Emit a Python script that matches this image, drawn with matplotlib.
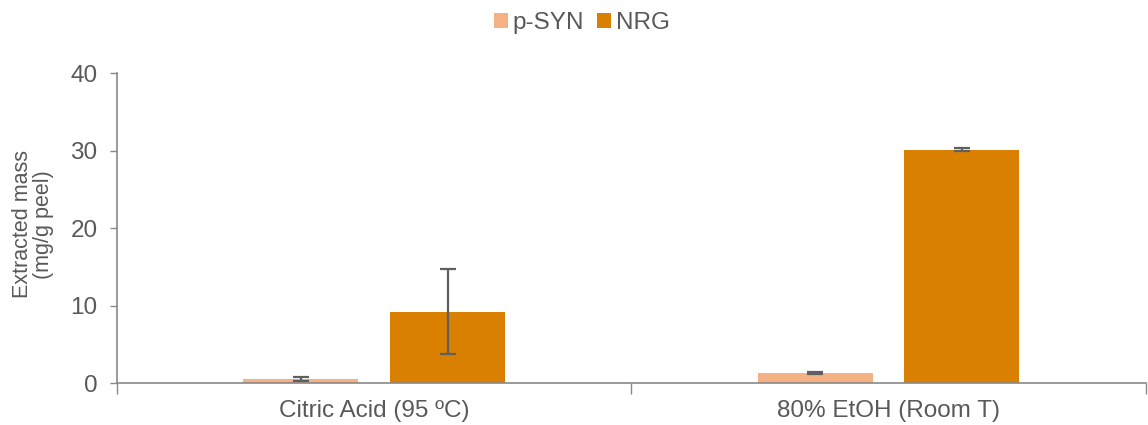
import matplotlib
matplotlib.use("Agg")
import matplotlib.pyplot as plt
import numpy as np

categories = ["Citric Acid (95 ºC)", "80% EtOH (Room T)"]
series_names = ["p-SYN", "NRG"]
psyn_values = [0.5, 1.3]
psyn_errors = [0.3, 0.1]
nrg_values = [9.2, 30.1]
nrg_errors = [5.5, 0.2]
yticks = [0, 10, 20, 30, 40]

plt.rcParams['font.family'] = ['Liberation Sans', 'DejaVu Sans']
txt = '#595959'
axcol = '#898989'

fig = plt.figure(figsize=(11.48, 4.25), dpi=100)
ax = fig.add_axes([0.102, 0.0988, 0.896, 0.7294])

x = np.arange(len(categories))
w = 0.2235
off = 0.1426
ekw = dict(ecolor='#5f5f5f', elinewidth=1.6, capsize=6, capthick=1.6)
ax.bar(x - off, psyn_values, w, yerr=psyn_errors, color='#F4B183', label=series_names[0], error_kw=ekw, zorder=2)
ax.bar(x + off, nrg_values, w, yerr=nrg_errors, color='#D98000', label=series_names[1], error_kw=ekw, zorder=2)

ax.set_xlim(-0.5, 1.5)
ax.set_ylim(0, 40)
ax.set_yticks(yticks)
ax.set_xticks([-0.5, 0.5, 1.5])
ax.set_xticklabels([])
ax.set_xticks(x, minor=True)
ax.set_xticklabels(categories, minor=True)
ax.tick_params(axis='x', which='minor', length=0, pad=12, labelsize=17.5, labelcolor=txt)
ax.tick_params(axis='x', which='major', length=8, width=1, color=axcol, direction='out')
ax.tick_params(axis='y', length=5, width=1, color=axcol, labelsize=17.5, labelcolor=txt, pad=9)

for s in ['top', 'right']:
    ax.spines[s].set_visible(False)
for s in ['left', 'bottom']:
    ax.spines[s].set_color(axcol)
    ax.spines[s].set_linewidth(1.2)

ax.set_ylabel("Extracted mass\n(mg/g peel)", fontsize=15.5, color=txt, labelpad=12, linespacing=1.0)
ax.yaxis.label.set_y(0.512)

leg = fig.legend(loc='center', bbox_to_anchor=(0.507, 0.945), ncol=2, frameon=False,
                 fontsize=17.5, handlelength=0.55, handleheight=0.55, handletextpad=0.2, columnspacing=0.55)
for t in leg.get_texts():
    t.set_color(txt)

fig.savefig("out.png", dpi=100)
